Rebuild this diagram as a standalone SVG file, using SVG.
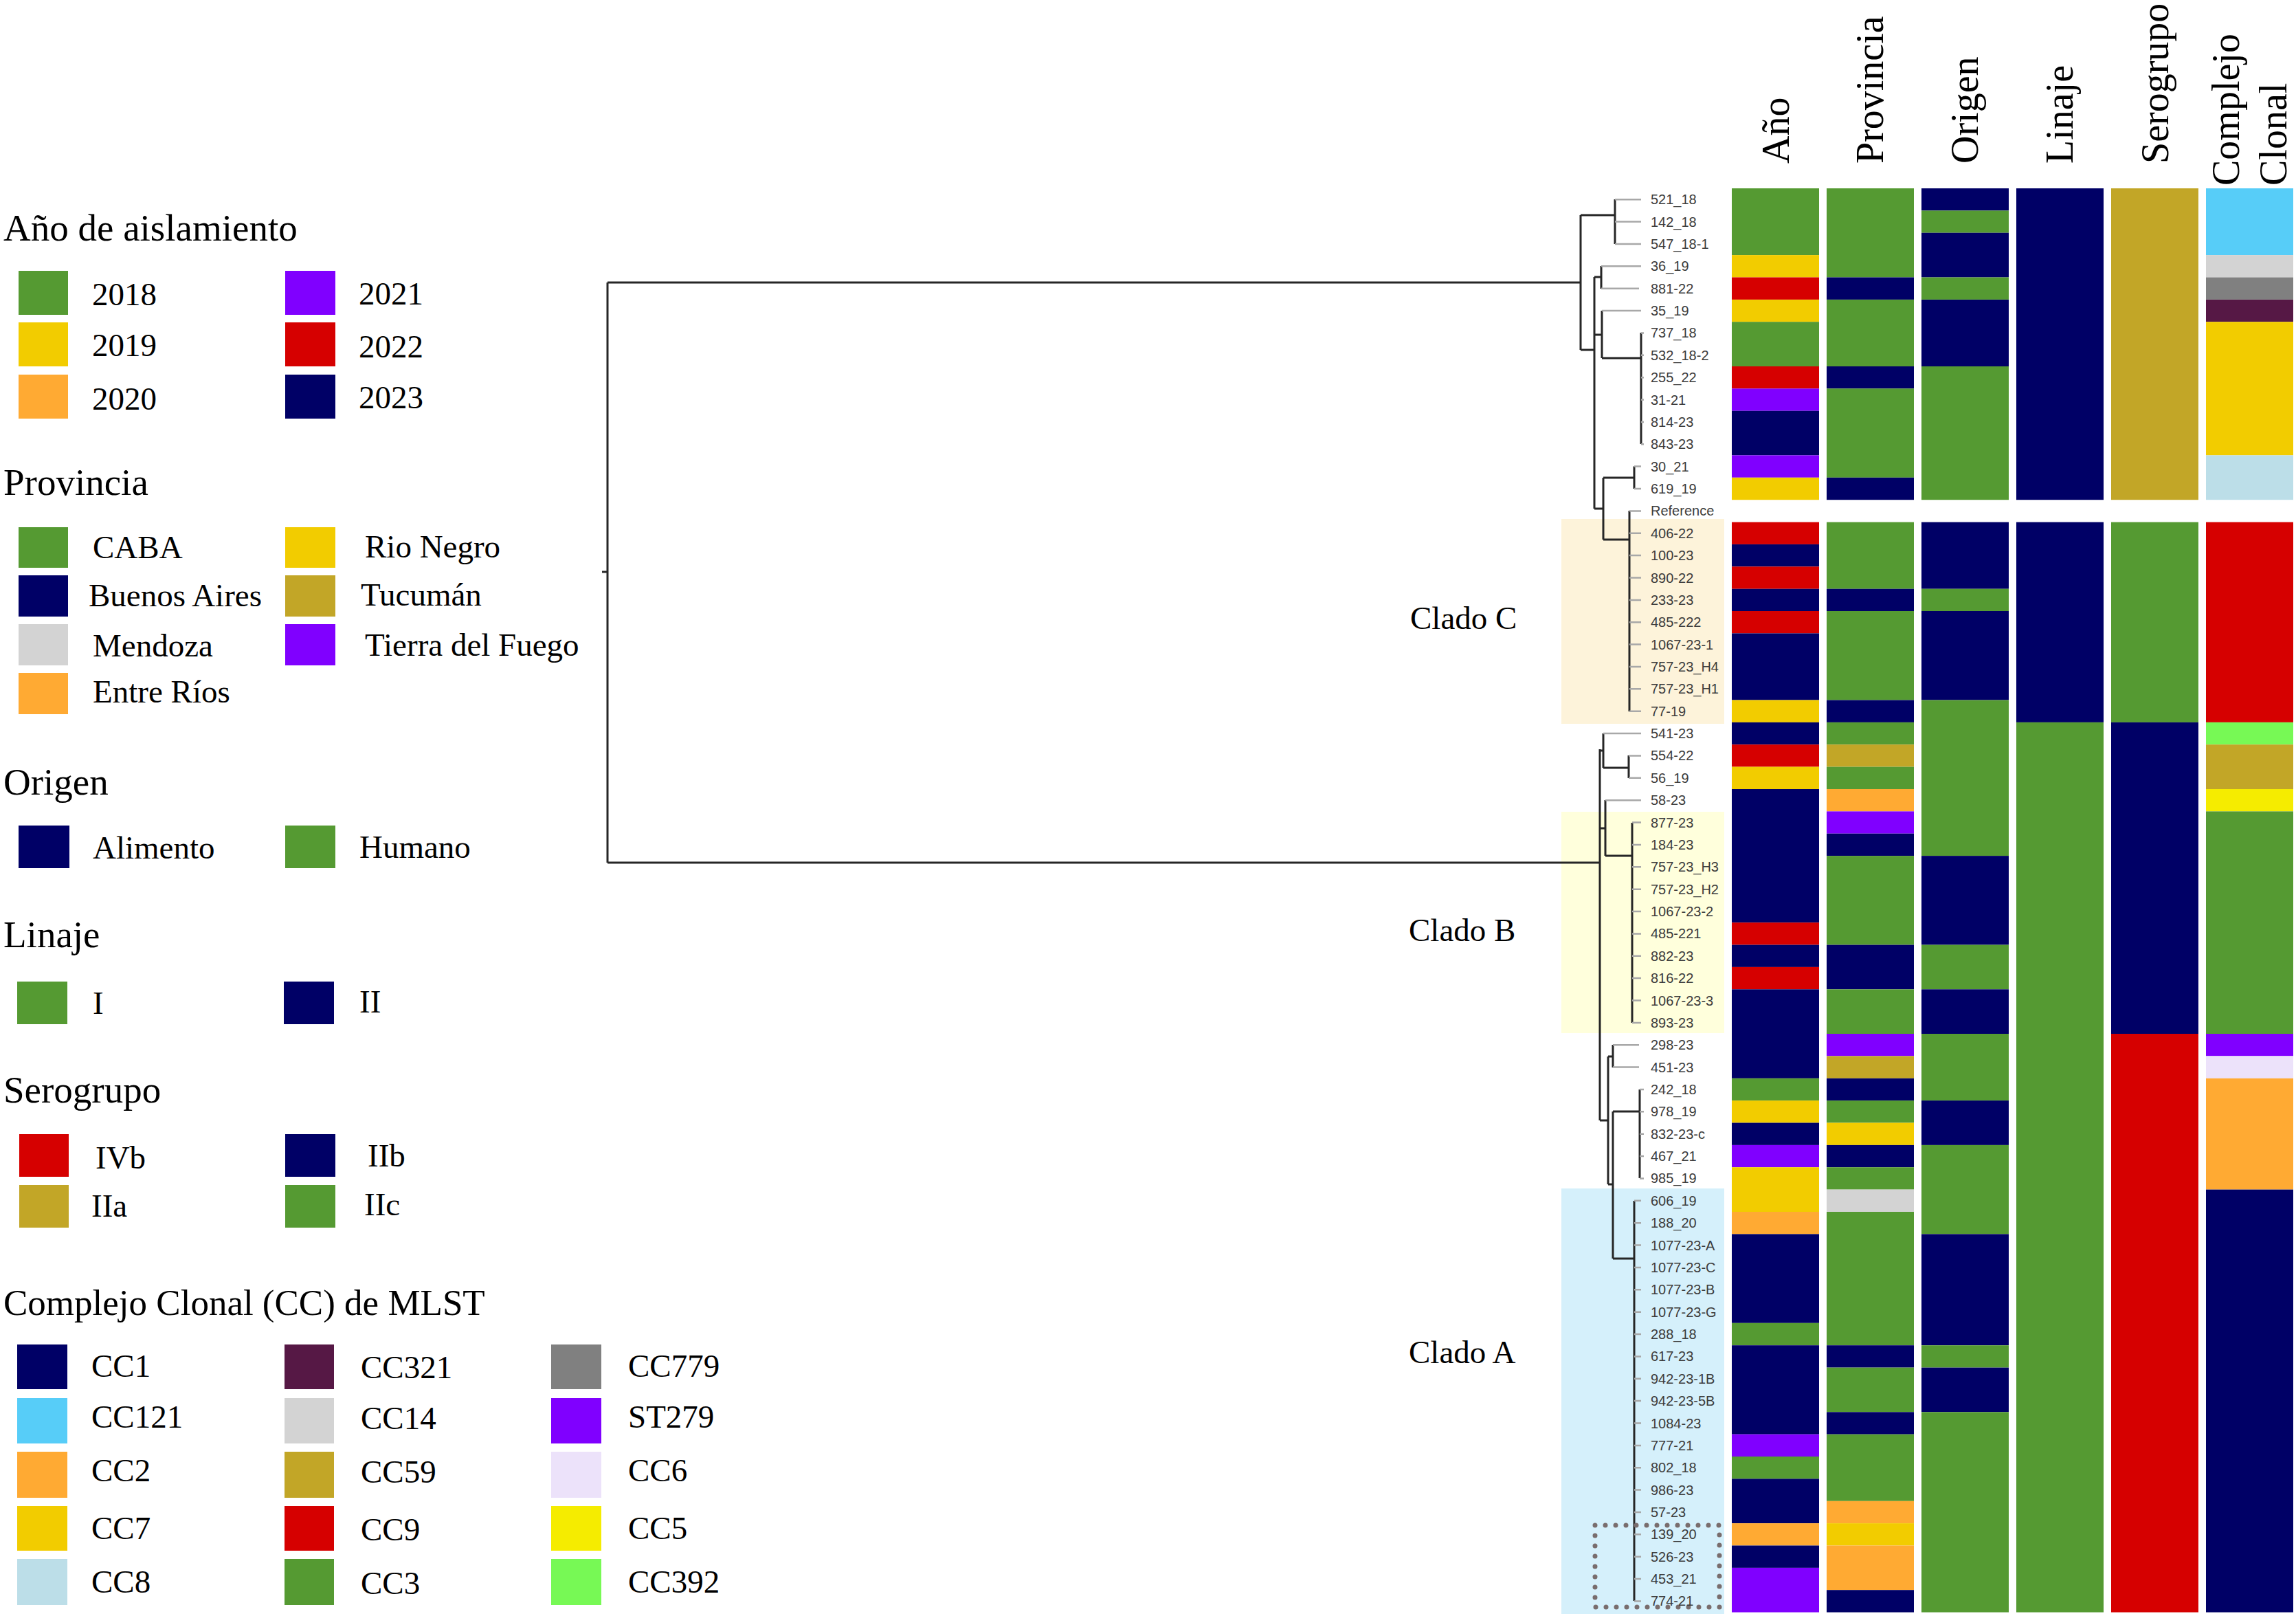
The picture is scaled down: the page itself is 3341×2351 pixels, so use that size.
<svg xmlns="http://www.w3.org/2000/svg" width="3341" height="2351" viewBox="0 0 3341 2351">
<style>
.t{font-family:"Liberation Sans",Arial,sans-serif;font-size:20px;fill:#3c3c3c}
.h{font-family:"Liberation Serif","Times New Roman",serif;font-size:56px;fill:#000}
.lt{font-family:"Liberation Serif","Times New Roman",serif;font-size:55px;fill:#000}
.ll{font-family:"Liberation Serif","Times New Roman",serif;font-size:47px;fill:#000}
.cl{font-family:"Liberation Serif","Times New Roman",serif;font-size:47px;fill:#000}
.br{fill:none;stroke:#262626;stroke-width:3}
.lf{fill:none;stroke:#a8a8a8;stroke-width:2.5}
.G{fill:#559A32}.N{fill:#000066}.Y{fill:#F2CC00}.R{fill:#D60000}.O{fill:#FFAA33}.P{fill:#8000FF}.L{fill:#D3D3D3}.T{fill:#C2A627}
.C121{fill:#57CDF8}.C321{fill:#561845}.C779{fill:#808080}.C8{fill:#BCDEE8}.C6{fill:#ECE2FA}.C5{fill:#F5EC00}.C392{fill:#77F955}
</style>
<rect width="3341" height="2351" fill="#fff"/>

<!-- clade shading -->
<g id="clades">
<rect x="2272" y="755" width="237" height="298" fill="#FDF3DA"/>
<rect x="2272" y="1181" width="237" height="322" fill="#FFFFDC"/>
<rect x="2272" y="1729" width="237" height="619" fill="#D5F0FB"/>
<text class="cl" x="2052" y="915">Clado C</text>
<text class="cl" x="2050" y="1369">Clado B</text>
<text class="cl" x="2050" y="1983">Clado A</text>
</g>

<!-- tree connectors -->
<g id="connectors">
<path class="br" d="M884,411V1255 M876,832H884 M884,411H2300 M884,1255H2328
M2300,313V509 M2300,313H2350 M2350,290V355 M2300,509H2320 M2320,403V740
M2320,403H2330 M2330,387V420 M2320,487H2331 M2331,452V521 M2331,521H2388 M2388,484V646
M2320,740H2333 M2333,695V785 M2333,695H2378 M2378,678.5V711 M2333,785H2371 M2371,743V1035
M2328,1090V1630 M2328,1092H2333 M2333,1067V1117 M2333,1117H2370 M2370,1099V1132
M2328,1205H2336 M2336,1164V1245 M2336,1245H2375 M2375,1197V1488
M2328,1630H2340 M2340,1537V1723 M2340,1537H2347 M2347,1520V1553 M2340,1723H2347 M2347,1617V1831 M2347,1617H2386 M2386,1585V1714 M2347,1831H2378 M2378,1747V2329"/>
<path class="lf" d="M2350,290.2H2388 M2350,322.6H2388 M2350,354.9H2388 M2330,387.3H2388 M2330,419.7H2385 M2331,452.1H2388
M2388,484.4H2392 M2388,516.8H2392 M2388,549.2H2392 M2388,581.5H2392 M2388,613.9H2392 M2388,646.3H2392
M2378,678.6H2388 M2378,711H2388
M2371,743.4H2388 M2371,775.8H2388 M2371,808.1H2388 M2371,840.5H2388 M2371,872.9H2388 M2371,905.2H2388 M2371,937.6H2388 M2371,970H2388 M2371,1002.3H2388 M2371,1034.7H2388
M2333,1067.1H2388 M2370,1099.4H2388 M2370,1131.8H2388 M2336,1164.2H2388
M2375,1196.6H2388 M2375,1228.9H2388 M2375,1261.3H2388 M2375,1293.7H2388 M2375,1326H2388 M2375,1358.4H2388 M2375,1390.8H2388 M2375,1423.1H2388 M2375,1455.5H2388 M2375,1487.9H2388
M2347,1520.2H2385 M2347,1552.6H2385
M2386,1585H2392 M2386,1617.3H2392 M2386,1649.7H2392 M2386,1682.1H2392 M2386,1714.4H2392
M2378,1746.8H2388 M2378,1779.2H2388 M2378,1811.6H2388 M2378,1843.9H2388 M2378,1876.3H2388 M2378,1908.7H2388 M2378,1941H2388 M2378,1973.4H2388 M2378,2005.8H2388 M2378,2038.1H2388 M2378,2070.5H2388 M2378,2102.9H2388 M2378,2135.2H2388 M2378,2167.6H2388 M2378,2200H2388 M2378,2232.3H2388 M2378,2264.7H2388 M2378,2297.1H2388 M2378,2329.4H2388"/>
<rect x="2321" y="2219" width="181" height="119" fill="none" stroke="#796d6d" stroke-width="7" stroke-dasharray="0 15" stroke-linecap="round"/>
</g>

<!-- leaves -->
<g id="n1"><text class="t" x="2402" y="297.2">521_18</text></g>
<g id="n2"><text class="t" x="2402" y="329.6">142_18</text></g>
<g id="n3"><text class="t" x="2402" y="361.9">547_18-1</text></g>
<g id="n4"><text class="t" x="2402" y="394.3">36_19</text></g>
<g id="n5"><text class="t" x="2402" y="426.7">881-22</text></g>
<g id="n6"><text class="t" x="2402" y="459.1">35_19</text></g>
<g id="n7"><text class="t" x="2402" y="491.4">737_18</text></g>
<g id="n8"><text class="t" x="2402" y="523.8">532_18-2</text></g>
<g id="n9"><text class="t" x="2402" y="556.2">255_22</text></g>
<g id="n10"><text class="t" x="2402" y="588.5">31-21</text></g>
<g id="n11"><text class="t" x="2402" y="620.9">814-23</text></g>
<g id="n12"><text class="t" x="2402" y="653.3">843-23</text></g>
<g id="n13"><text class="t" x="2402" y="685.6">30_21</text></g>
<g id="n14"><text class="t" x="2402" y="718">619_19</text></g>
<g id="n15"><text class="t" x="2402" y="750.4">Reference</text></g>
<g id="n16"><text class="t" x="2402" y="782.8">406-22</text></g>
<g id="n17"><text class="t" x="2402" y="815.1">100-23</text></g>
<g id="n18"><text class="t" x="2402" y="847.5">890-22</text></g>
<g id="n19"><text class="t" x="2402" y="879.9">233-23</text></g>
<g id="n20"><text class="t" x="2402" y="912.2">485-222</text></g>
<g id="n21"><text class="t" x="2402" y="944.6">1067-23-1</text></g>
<g id="n22"><text class="t" x="2402" y="977">757-23_H4</text></g>
<g id="n23"><text class="t" x="2402" y="1009.3">757-23_H1</text></g>
<g id="n24"><text class="t" x="2402" y="1041.7">77-19</text></g>
<g id="n25"><text class="t" x="2402" y="1074.1">541-23</text></g>
<g id="n26"><text class="t" x="2402" y="1106.4">554-22</text></g>
<g id="n27"><text class="t" x="2402" y="1138.8">56_19</text></g>
<g id="n28"><text class="t" x="2402" y="1171.2">58-23</text></g>
<g id="n29"><text class="t" x="2402" y="1203.6">877-23</text></g>
<g id="n30"><text class="t" x="2402" y="1235.9">184-23</text></g>
<g id="n31"><text class="t" x="2402" y="1268.3">757-23_H3</text></g>
<g id="n32"><text class="t" x="2402" y="1300.7">757-23_H2</text></g>
<g id="n33"><text class="t" x="2402" y="1333">1067-23-2</text></g>
<g id="n34"><text class="t" x="2402" y="1365.4">485-221</text></g>
<g id="n35"><text class="t" x="2402" y="1397.8">882-23</text></g>
<g id="n36"><text class="t" x="2402" y="1430.1">816-22</text></g>
<g id="n37"><text class="t" x="2402" y="1462.5">1067-23-3</text></g>
<g id="n38"><text class="t" x="2402" y="1494.9">893-23</text></g>
<g id="n39"><text class="t" x="2402" y="1527.2">298-23</text></g>
<g id="n40"><text class="t" x="2402" y="1559.6">451-23</text></g>
<g id="n41"><text class="t" x="2402" y="1592">242_18</text></g>
<g id="n42"><text class="t" x="2402" y="1624.3">978_19</text></g>
<g id="n43"><text class="t" x="2402" y="1656.7">832-23-c</text></g>
<g id="n44"><text class="t" x="2402" y="1689.1">467_21</text></g>
<g id="n45"><text class="t" x="2402" y="1721.4">985_19</text></g>
<g id="n46"><text class="t" x="2402" y="1753.8">606_19</text></g>
<g id="n47"><text class="t" x="2402" y="1786.2">188_20</text></g>
<g id="n48"><text class="t" x="2402" y="1818.6">1077-23-A</text></g>
<g id="n49"><text class="t" x="2402" y="1850.9">1077-23-C</text></g>
<g id="n50"><text class="t" x="2402" y="1883.3">1077-23-B</text></g>
<g id="n51"><text class="t" x="2402" y="1915.7">1077-23-G</text></g>
<g id="n52"><text class="t" x="2402" y="1948">288_18</text></g>
<g id="n53"><text class="t" x="2402" y="1980.4">617-23</text></g>
<g id="n54"><text class="t" x="2402" y="2012.8">942-23-1B</text></g>
<g id="n55"><text class="t" x="2402" y="2045.1">942-23-5B</text></g>
<g id="n56"><text class="t" x="2402" y="2077.5">1084-23</text></g>
<g id="n57"><text class="t" x="2402" y="2109.9">777-21</text></g>
<g id="n58"><text class="t" x="2402" y="2142.2">802_18</text></g>
<g id="n59"><text class="t" x="2402" y="2174.6">986-23</text></g>
<g id="n60"><text class="t" x="2402" y="2207">57-23</text></g>
<g id="n61"><text class="t" x="2402" y="2239.3">139_20</text></g>
<g id="n62"><text class="t" x="2402" y="2271.7">526-23</text></g>
<g id="n63"><text class="t" x="2402" y="2304.1">453_21</text></g>
<g id="n64"><text class="t" x="2402" y="2336.4">774-21</text></g>

<!-- column headers -->
<g id="headers">
<text class="h" transform="translate(2603,238) rotate(-90)">Año</text>
<text class="h" transform="translate(2740,238) rotate(-90)">Provincia</text>
<text class="h" transform="translate(2878,238) rotate(-90)">Origen</text>
<text class="h" transform="translate(3016,238) rotate(-90)">Linaje</text>
<text class="h" transform="translate(3155,238) rotate(-90)">Serogrupo</text>
<text class="h" transform="translate(3258,270) rotate(-90)">Complejo</text>
<text class="h" transform="translate(3327,270) rotate(-90)">Clonal</text>
</g>

<!-- Año column -->
<g id="col-anio">
<rect class="G" x="2520" y="274" width="127" height="97.1"/>
<rect class="Y" x="2520" y="371.1" width="127" height="32.4"/>
<rect class="R" x="2520" y="403.5" width="127" height="32.4"/>
<rect class="Y" x="2520" y="435.9" width="127" height="32.3"/>
<rect class="G" x="2520" y="468.2" width="127" height="64.8"/>
<rect class="R" x="2520" y="533" width="127" height="32.3"/>
<rect class="P" x="2520" y="565.3" width="127" height="32.4"/>
<rect class="N" x="2520" y="597.7" width="127" height="64.7"/>
<rect class="P" x="2520" y="662.4" width="127" height="32.4"/>
<rect class="Y" x="2520" y="694.8" width="127" height="32.4"/>
<rect class="R" x="2520" y="759.6" width="127" height="32.3"/>
<rect class="N" x="2520" y="791.9" width="127" height="32.4"/>
<rect class="R" x="2520" y="824.3" width="127" height="32.4"/>
<rect class="N" x="2520" y="856.7" width="127" height="32.3"/>
<rect class="R" x="2520" y="889" width="127" height="32.4"/>
<rect class="N" x="2520" y="921.4" width="127" height="97.1"/>
<rect class="Y" x="2520" y="1018.5" width="127" height="32.4"/>
<rect class="N" x="2520" y="1050.9" width="127" height="32.3"/>
<rect class="R" x="2520" y="1083.2" width="127" height="32.4"/>
<rect class="Y" x="2520" y="1115.6" width="127" height="32.4"/>
<rect class="N" x="2520" y="1148" width="127" height="194.2"/>
<rect class="R" x="2520" y="1342.2" width="127" height="32.4"/>
<rect class="N" x="2520" y="1374.6" width="127" height="32.3"/>
<rect class="R" x="2520" y="1406.9" width="127" height="32.4"/>
<rect class="N" x="2520" y="1439.3" width="127" height="129.5"/>
<rect class="G" x="2520" y="1568.8" width="127" height="32.3"/>
<rect class="Y" x="2520" y="1601.1" width="127" height="32.4"/>
<rect class="N" x="2520" y="1633.5" width="127" height="32.4"/>
<rect class="P" x="2520" y="1665.9" width="127" height="32.3"/>
<rect class="Y" x="2520" y="1698.2" width="127" height="64.8"/>
<rect class="O" x="2520" y="1763" width="127" height="32.4"/>
<rect class="N" x="2520" y="1795.4" width="127" height="129.4"/>
<rect class="G" x="2520" y="1924.8" width="127" height="32.4"/>
<rect class="N" x="2520" y="1957.2" width="127" height="129.5"/>
<rect class="P" x="2520" y="2086.7" width="127" height="32.3"/>
<rect class="G" x="2520" y="2119" width="127" height="32.4"/>
<rect class="N" x="2520" y="2151.4" width="127" height="64.7"/>
<rect class="O" x="2520" y="2216.1" width="127" height="32.4"/>
<rect class="N" x="2520" y="2248.5" width="127" height="32.4"/>
<rect class="P" x="2520" y="2280.9" width="127" height="64.7"/>
</g>

<!-- Provincia column -->
<g id="col-provincia">
<rect class="G" x="2658" y="274" width="127" height="129.5"/>
<rect class="N" x="2658" y="403.5" width="127" height="32.4"/>
<rect class="G" x="2658" y="435.9" width="127" height="97.1"/>
<rect class="N" x="2658" y="533" width="127" height="32.3"/>
<rect class="G" x="2658" y="565.3" width="127" height="129.5"/>
<rect class="N" x="2658" y="694.8" width="127" height="32.4"/>
<rect class="G" x="2658" y="759.6" width="127" height="97.1"/>
<rect class="N" x="2658" y="856.7" width="127" height="32.3"/>
<rect class="G" x="2658" y="889" width="127" height="129.5"/>
<rect class="N" x="2658" y="1018.5" width="127" height="32.4"/>
<rect class="G" x="2658" y="1050.9" width="127" height="32.3"/>
<rect class="T" x="2658" y="1083.2" width="127" height="32.4"/>
<rect class="G" x="2658" y="1115.6" width="127" height="32.4"/>
<rect class="O" x="2658" y="1148" width="127" height="32.4"/>
<rect class="P" x="2658" y="1180.4" width="127" height="32.3"/>
<rect class="N" x="2658" y="1212.7" width="127" height="32.4"/>
<rect class="G" x="2658" y="1245.1" width="127" height="129.5"/>
<rect class="N" x="2658" y="1374.6" width="127" height="64.7"/>
<rect class="G" x="2658" y="1439.3" width="127" height="64.7"/>
<rect class="P" x="2658" y="1504" width="127" height="32.4"/>
<rect class="T" x="2658" y="1536.4" width="127" height="32.4"/>
<rect class="N" x="2658" y="1568.8" width="127" height="32.3"/>
<rect class="G" x="2658" y="1601.1" width="127" height="32.4"/>
<rect class="Y" x="2658" y="1633.5" width="127" height="32.4"/>
<rect class="N" x="2658" y="1665.9" width="127" height="32.3"/>
<rect class="G" x="2658" y="1698.2" width="127" height="32.4"/>
<rect class="L" x="2658" y="1730.6" width="127" height="32.4"/>
<rect class="G" x="2658" y="1763" width="127" height="194.2"/>
<rect class="N" x="2658" y="1957.2" width="127" height="32.4"/>
<rect class="G" x="2658" y="1989.6" width="127" height="64.7"/>
<rect class="N" x="2658" y="2054.3" width="127" height="32.4"/>
<rect class="G" x="2658" y="2086.7" width="127" height="97.1"/>
<rect class="O" x="2658" y="2183.8" width="127" height="32.3"/>
<rect class="Y" x="2658" y="2216.1" width="127" height="32.4"/>
<rect class="O" x="2658" y="2248.5" width="127" height="64.7"/>
<rect class="N" x="2658" y="2313.2" width="127" height="32.4"/>
</g>

<!-- Origen column -->
<g id="col-origen">
<rect class="N" x="2796" y="274" width="127" height="32.4"/>
<rect class="G" x="2796" y="306.4" width="127" height="32.3"/>
<rect class="N" x="2796" y="338.7" width="127" height="64.8"/>
<rect class="G" x="2796" y="403.5" width="127" height="32.4"/>
<rect class="N" x="2796" y="435.9" width="127" height="97.1"/>
<rect class="G" x="2796" y="533" width="127" height="194.2"/>
<rect class="N" x="2796" y="759.6" width="127" height="97.1"/>
<rect class="G" x="2796" y="856.7" width="127" height="32.3"/>
<rect class="N" x="2796" y="889" width="127" height="129.5"/>
<rect class="G" x="2796" y="1018.5" width="127" height="226.6"/>
<rect class="N" x="2796" y="1245.1" width="127" height="129.5"/>
<rect class="G" x="2796" y="1374.6" width="127" height="64.7"/>
<rect class="N" x="2796" y="1439.3" width="127" height="64.7"/>
<rect class="G" x="2796" y="1504" width="127" height="97.1"/>
<rect class="N" x="2796" y="1601.1" width="127" height="64.8"/>
<rect class="G" x="2796" y="1665.9" width="127" height="129.5"/>
<rect class="N" x="2796" y="1795.4" width="127" height="161.8"/>
<rect class="G" x="2796" y="1957.2" width="127" height="32.4"/>
<rect class="N" x="2796" y="1989.6" width="127" height="64.7"/>
<rect class="G" x="2796" y="2054.3" width="127" height="291.3"/>
</g>

<!-- Linaje column -->
<g id="col-linaje">
<rect class="N" x="2934" y="274" width="127" height="453.2"/>
<rect class="N" x="2934" y="759.6" width="127" height="291.3"/>
<rect class="G" x="2934" y="1050.9" width="127" height="1294.7"/>
</g>

<!-- Serogrupo column -->
<g id="col-serogrupo">
<rect class="T" x="3072" y="274" width="127" height="453.2"/>
<rect class="G" x="3072" y="759.6" width="127" height="291.3"/>
<rect class="N" x="3072" y="1050.9" width="127" height="453.1"/>
<rect class="R" x="3072" y="1504" width="127" height="841.6"/>
</g>

<!-- Complejo clonal column -->
<g id="col-complejo">
<rect class="C121" x="3210" y="274" width="127" height="97.1"/>
<rect class="L" x="3210" y="371.1" width="127" height="32.4"/>
<rect class="C779" x="3210" y="403.5" width="127" height="32.4"/>
<rect class="C321" x="3210" y="435.9" width="127" height="32.3"/>
<rect class="Y" x="3210" y="468.2" width="127" height="194.2"/>
<rect class="C8" x="3210" y="662.4" width="127" height="64.8"/>
<rect class="R" x="3210" y="759.6" width="127" height="291.3"/>
<rect class="C392" x="3210" y="1050.9" width="127" height="32.3"/>
<rect class="T" x="3210" y="1083.2" width="127" height="64.8"/>
<rect class="C5" x="3210" y="1148" width="127" height="32.4"/>
<rect class="G" x="3210" y="1180.4" width="127" height="323.6"/>
<rect class="P" x="3210" y="1504" width="127" height="32.4"/>
<rect class="C6" x="3210" y="1536.4" width="127" height="32.4"/>
<rect class="O" x="3210" y="1568.8" width="127" height="161.8"/>
<rect class="N" x="3210" y="1730.6" width="127" height="615"/>
</g>

<!-- Legend -->
<g id="legend-anio">
<text class="lt" x="5" y="350">Año de aislamiento</text>
<rect class="G" x="27" y="394" width="72" height="64"/>
<rect class="Y" x="27" y="469" width="72" height="64"/>
<rect class="O" x="27" y="545" width="72" height="64"/>
<rect class="P" x="415" y="394" width="73" height="64"/>
<rect class="R" x="415" y="469" width="73" height="64"/>
<rect class="N" x="415" y="545" width="73" height="64"/>
<text class="ll" x="134" y="444">2018</text>
<text class="ll" x="134" y="518">2019</text>
<text class="ll" x="134" y="596">2020</text>
<text class="ll" x="522" y="443">2021</text>
<text class="ll" x="522" y="520">2022</text>
<text class="ll" x="522" y="594">2023</text>
</g>
<g id="legend-provincia">
<text class="lt" x="5" y="720">Provincia</text>
<rect class="G" x="27" y="767" width="72" height="59"/>
<rect class="N" x="27" y="837" width="72" height="60"/>
<rect class="L" x="27" y="908" width="72" height="60"/>
<rect class="O" x="27" y="979" width="72" height="60"/>
<rect class="Y" x="415" y="767" width="73" height="59"/>
<rect class="T" x="415" y="837" width="73" height="60"/>
<rect class="P" x="415" y="908" width="73" height="60"/>
<text class="ll" x="135" y="812">CABA</text>
<text class="ll" x="129" y="882">Buenos Aires</text>
<text class="ll" x="135" y="955">Mendoza</text>
<text class="ll" x="135" y="1022">Entre Ríos</text>
<text class="ll" x="531" y="811">Rio Negro</text>
<text class="ll" x="525" y="881">Tucumán</text>
<text class="ll" x="531" y="954">Tierra del Fuego</text>
</g>
<g id="legend-origen">
<text class="lt" x="5" y="1156">Origen</text>
<rect class="N" x="27" y="1201" width="74" height="62"/>
<rect class="G" x="415" y="1201" width="73" height="62"/>
<text class="ll" x="135" y="1249">Alimento</text>
<text class="ll" x="523" y="1248">Humano</text>
</g>
<g id="legend-linaje">
<text class="lt" x="5" y="1378">Linaje</text>
<rect class="G" x="25" y="1428" width="73" height="62"/>
<rect class="N" x="413" y="1428" width="73" height="62"/>
<text class="ll" x="135" y="1475">I</text>
<text class="ll" x="523" y="1473">II</text>
</g>
<g id="legend-serogrupo">
<text class="lt" x="5" y="1604">Serogrupo</text>
<rect class="R" x="28" y="1650" width="72" height="62"/>
<rect class="N" x="415" y="1650" width="73" height="62"/>
<rect class="T" x="28" y="1724" width="72" height="62"/>
<rect class="G" x="415" y="1724" width="73" height="62"/>
<text class="ll" x="139" y="1700">IVb</text>
<text class="ll" x="535" y="1697">IIb</text>
<text class="ll" x="133" y="1770">IIa</text>
<text class="ll" x="530" y="1768">IIc</text>
</g>
<g id="legend-cc">
<text class="lt" x="5" y="1913" style="font-size:53px">Complejo Clonal (CC) de MLST</text>
<rect class="N" x="25" y="1956" width="73" height="65"/>
<rect class="C121" x="25" y="2034" width="73" height="66"/>
<rect class="O" x="25" y="2112" width="73" height="67"/>
<rect class="Y" x="25" y="2191" width="73" height="65"/>
<rect class="C8" x="25" y="2268" width="73" height="67"/>
<rect class="C321" x="414" y="1956" width="72" height="65"/>
<rect class="L" x="414" y="2034" width="72" height="66"/>
<rect class="T" x="414" y="2112" width="72" height="67"/>
<rect class="R" x="414" y="2191" width="72" height="65"/>
<rect class="G" x="414" y="2268" width="72" height="67"/>
<rect class="C779" x="802" y="1956" width="73" height="65"/>
<rect class="P" x="802" y="2034" width="73" height="66"/>
<rect class="C6" x="802" y="2112" width="73" height="67"/>
<rect class="C5" x="802" y="2191" width="73" height="65"/>
<rect class="C392" x="802" y="2268" width="73" height="67"/>
<text class="ll" x="133" y="2003">CC1</text>
<text class="ll" x="133" y="2077">CC121</text>
<text class="ll" x="133" y="2155">CC2</text>
<text class="ll" x="133" y="2239">CC7</text>
<text class="ll" x="133" y="2317">CC8</text>
<text class="ll" x="525" y="2005">CC321</text>
<text class="ll" x="525" y="2079">CC14</text>
<text class="ll" x="525" y="2157">CC59</text>
<text class="ll" x="525" y="2241">CC9</text>
<text class="ll" x="525" y="2319">CC3</text>
<text class="ll" x="914" y="2003">CC779</text>
<text class="ll" x="914" y="2077">ST279</text>
<text class="ll" x="914" y="2155">CC6</text>
<text class="ll" x="914" y="2239">CC5</text>
<text class="ll" x="914" y="2317">CC392</text>
</g>
</svg>
